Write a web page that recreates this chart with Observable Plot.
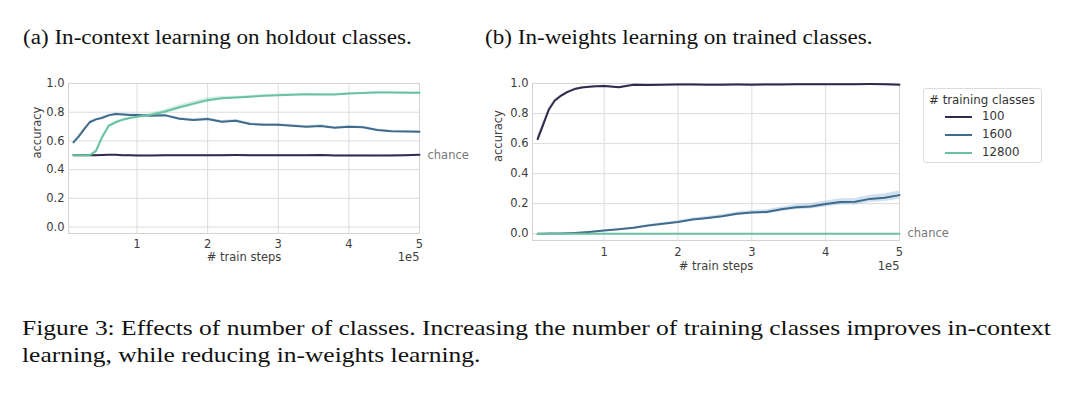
<!DOCTYPE html>
<html><head><meta charset="utf-8">
<script src="https://cdn.jsdelivr.net/npm/d3@7"></script>
<script src="https://cdn.jsdelivr.net/npm/@observablehq/plot@0.6"></script>
<style>
html,body{margin:0;padding:0;background:#fff;}
#page{position:relative;width:1080px;height:397px;overflow:hidden;background:#fff;}
.serif{position:absolute;font-family:"Liberation Serif","Times New Roman",serif;color:#111;white-space:nowrap;line-height:1;transform-origin:0 0;}
.panel{position:absolute;}
#legend{position:absolute;left:923px;top:88px;width:117px;height:73px;border:1px solid #dcdcdc;border-radius:3px;background:#fff;font-family:"DejaVu Sans",sans-serif;font-size:11.8px;color:#333;}
#legend .ttl{position:absolute;left:5px;top:4px;white-space:nowrap;}
#legend .row{position:absolute;left:21px;height:14px;white-space:nowrap;}
#legend .row svg{position:absolute;left:0;top:3px;}
#legend .row span{position:absolute;left:37px;top:-1px;}
</style></head><body><div id="page"></div>
<script>
// ---- data (x in train steps) ----
const steps = [10000,17000,25000,33000,42000,50000,60000,70000,80000,90000,100000,120000,140000,160000,180000,200000,220000,240000,260000,280000,300000,320000,340000,360000,380000,400000,420000,440000,460000,480000,500000];
const seriesNames = ["100","1600","12800"];
const seriesColors = ["#2e2b4d","#3f6b8c","#69c2a0"];
const bandColors = ["#2e2b4d","#5b95c8","#69c2a0"];

// (a) in-context accuracy on holdout classes
const ctx100   = [0.500,0.500,0.500,0.500,0.501,0.502,0.503,0.503,0.501,0.500,0.499,0.498,0.500,0.501,0.500,0.500,0.501,0.502,0.501,0.500,0.501,0.500,0.500,0.502,0.499,0.499,0.499,0.498,0.499,0.500,0.503];
const ctx1600  = [0.590,0.628,0.680,0.730,0.750,0.760,0.778,0.787,0.784,0.781,0.780,0.775,0.778,0.755,0.745,0.752,0.734,0.740,0.718,0.712,0.712,0.705,0.698,0.704,0.692,0.698,0.695,0.676,0.668,0.666,0.664];
const ctx12800 = [0.500,0.500,0.500,0.500,0.530,0.620,0.705,0.730,0.748,0.760,0.768,0.782,0.805,0.835,0.860,0.884,0.897,0.902,0.908,0.915,0.919,0.922,0.925,0.924,0.924,0.930,0.933,0.938,0.937,0.936,0.935];
const ctxBand100   = [0.003,0.003,0.003,0.003,0.003,0.003,0.003,0.003,0.003,0.003,0.003,0.003,0.003,0.003,0.003,0.003,0.003,0.003,0.003,0.003,0.003,0.003,0.003,0.003,0.003,0.003,0.003,0.003,0.003,0.003,0.003];
const ctxBand1600  = [0.008,0.008,0.008,0.008,0.007,0.007,0.007,0.007,0.007,0.007,0.007,0.007,0.008,0.009,0.009,0.009,0.009,0.010,0.009,0.008,0.008,0.008,0.008,0.008,0.008,0.008,0.008,0.007,0.007,0.007,0.007];
const ctxBand12800 = [0.002,0.002,0.002,0.004,0.012,0.012,0.010,0.008,0.008,0.008,0.008,0.010,0.014,0.016,0.017,0.016,0.012,0.010,0.009,0.008,0.007,0.007,0.006,0.006,0.006,0.006,0.006,0.006,0.006,0.006,0.006];

// (b) in-weights accuracy on trained classes
const iw100   = [0.630,0.720,0.825,0.885,0.920,0.943,0.963,0.974,0.978,0.981,0.984,0.975,0.992,0.990,0.991,0.993,0.993,0.991,0.992,0.993,0.992,0.993,0.994,0.995,0.995,0.995,0.995,0.995,0.996,0.995,0.992];
const iw1600  = [0.000,0.000,0.001,0.001,0.002,0.003,0.005,0.008,0.012,0.017,0.021,0.030,0.040,0.055,0.067,0.078,0.095,0.105,0.117,0.133,0.142,0.145,0.163,0.176,0.182,0.198,0.212,0.213,0.232,0.240,0.257];
const iw12800 = [0.000,0.000,0.000,0.000,0.000,0.000,0.000,0.000,0.000,0.000,0.000,0.000,0.000,0.000,0.000,0.000,0.000,0.000,0.000,0.000,0.000,0.000,0.000,0.000,0.000,0.000,0.000,0.000,0.000,0.000,0.000];
const iwBand100   = [0.020,0.015,0.010,0.008,0.006,0.005,0.004,0.004,0.004,0.004,0.004,0.004,0.003,0.003,0.003,0.003,0.003,0.003,0.003,0.003,0.003,0.003,0.003,0.003,0.003,0.003,0.003,0.003,0.003,0.003,0.003];
const iwBand1600  = [0.000,0.000,0.000,0.000,0.001,0.001,0.001,0.002,0.002,0.003,0.003,0.004,0.005,0.006,0.007,0.008,0.009,0.010,0.011,0.012,0.013,0.014,0.015,0.017,0.018,0.020,0.021,0.022,0.024,0.026,0.028];
const iwBand12800 = [0.000,0.000,0.000,0.000,0.000,0.000,0.000,0.000,0.000,0.000,0.000,0.000,0.000,0.000,0.000,0.000,0.000,0.000,0.000,0.000,0.000,0.000,0.000,0.000,0.000,0.000,0.000,0.000,0.000,0.000,0.000];

const xTicks = [100000,200000,300000,400000,500000];
const yTicks = [0.0,0.2,0.4,0.6,0.8,1.0];
const xDomain = [3000,500000];
const yDomain = [-0.045,1.0];

const titleA = "(a) In-context learning on holdout classes.";
const titleB = "(b) In-weights learning on trained classes.";
const captionLines = ["Figure 3: Effects of number of classes. Increasing the number of training classes improves in-context","learning, while reducing in-weights learning."];
const xLabel = "# train steps";
const yLabel = "accuracy";
const expLabel = "1e5";
const chanceLabel = "chance";
const legendTitle = "# training classes";
const chanceA = 0.5, chanceB = 0.0;

// ---- build rows ----
function rows(vals, bands) {
  const out = [];
  seriesNames.forEach((s, i) => {
    steps.forEach((st, j) => {
      out.push({series: s, step: st, value: vals[i][j], lo: vals[i][j] - bands[i][j], hi: vals[i][j] + bands[i][j]});
    });
  });
  return out;
}
const rowsA = rows([ctx100, ctx1600, ctx12800], [ctxBand100, ctxBand1600, ctxBand12800]);
const rowsB = rows([iw100, iw1600, iw12800], [iwBand100, iwBand1600, iwBand12800]);

const tickColor = "#3d3d3d";
const fs = 11.5;

function panel(data, chance, opts) {
  return Plot.plot({
    width: opts.width, height: opts.height,
    marginLeft: opts.ml, marginRight: opts.mr, marginTop: opts.mt, marginBottom: opts.mb,
    style: {fontFamily: "DejaVu Sans, sans-serif", fontSize: fs + "px", color: tickColor, background: "transparent", overflow: "visible"},
    x: {domain: xDomain, label: null},
    y: {domain: yDomain, label: null},
    color: {domain: seriesNames, range: seriesColors},
    marks: [
      Plot.gridX(xTicks, {stroke: "#dcdcdc", strokeOpacity: 1, strokeWidth: 1}),
      Plot.gridY(yTicks, {stroke: "#dcdcdc", strokeOpacity: 1, strokeWidth: 1}),
      Plot.frame({stroke: "#d4d4d4", strokeWidth: 1}),
      Plot.areaY(data, {x: "step", y1: "lo", y2: "hi", z: "series", fill: d => bandColors[seriesNames.indexOf(d.series)], fillOpacity: 0.28}),
      Plot.lineY(data, {x: "step", y: "value", z: "series", stroke: "series", strokeWidth: 2}),
      Plot.axisX(xTicks, {tickSize: 0, tickPadding: opts.tp, tickFormat: d => String(d / 1e5), fontSize: fs, label: null}),
      Plot.axisY(yTicks, {tickSize: 0, tickPadding: 4, tickFormat: d3.format(".1f"), fontSize: fs, label: null}),
      Plot.text([xLabel], {frameAnchor: "bottom", dy: opts.xl, fontSize: fs, fill: tickColor, lineAnchor: "middle"}),
      Plot.text([expLabel], {frameAnchor: "bottom-right", textAnchor: "end", dy: opts.xl, fontSize: fs, fill: tickColor, lineAnchor: "middle"}),
      Plot.text([yLabel], {frameAnchor: "left", rotate: -90, dx: -opts.yl, fontSize: fs, fill: tickColor, lineAnchor: "middle"}),
      Plot.text([chanceLabel], {x: () => xDomain[1], y: () => chance, textAnchor: "start", dx: 8, fontSize: fs, fill: "#777", lineAnchor: "middle"})
    ]
  });
}

const page = document.getElementById("page");
function addText(txt, left, top, size, sx) {
  const d = document.createElement("div");
  d.className = "serif";
  d.style.left = left + "px"; d.style.top = top + "px"; d.style.fontSize = size + "px";
  d.style.transform = `scaleX(${sx})`;
  d.textContent = txt;
  page.appendChild(d);
}
addText(titleA, 23, 27, 20, 1.155);
addText(titleB, 485, 27, 20, 1.155);
addText(captionLines[0], 22, 317, 22, 1.158);
addText(captionLines[1], 22, 344, 22, 1.158);

const a = panel(rowsA, chanceA, {width: 480, height: 200, ml: 68, mr: 61, mt: 13, mb: 37, xl: 24, yl: 31, tp: 6});
const wa = document.createElement("div"); wa.className = "panel"; wa.style.left = "0px"; wa.style.top = "70px"; wa.appendChild(a); page.appendChild(wa);
const b = panel(rowsB, chanceB, {width: 490, height: 210, ml: 62, mr: 61, mt: 13, mb: 40, xl: 26, yl: 34, tp: 7});
const wb = document.createElement("div"); wb.className = "panel"; wb.style.left = "470px"; wb.style.top = "70px"; wb.appendChild(b); page.appendChild(wb);

// legend
const lg = document.createElement("div"); lg.id = "legend";
const t = document.createElement("div"); t.className = "ttl"; t.textContent = legendTitle; lg.appendChild(t);
seriesNames.forEach((s, i) => {
  const r = document.createElement("div"); r.className = "row"; r.style.top = (21 + i * 18) + "px";
  r.innerHTML = `<svg width="27" height="8"><line x1="0" x2="27" y1="4" y2="4" stroke="${seriesColors[i]}" stroke-width="2"/></svg><span>${s}</span>`;
  lg.appendChild(r);
});
page.appendChild(lg);
</script></body></html>
